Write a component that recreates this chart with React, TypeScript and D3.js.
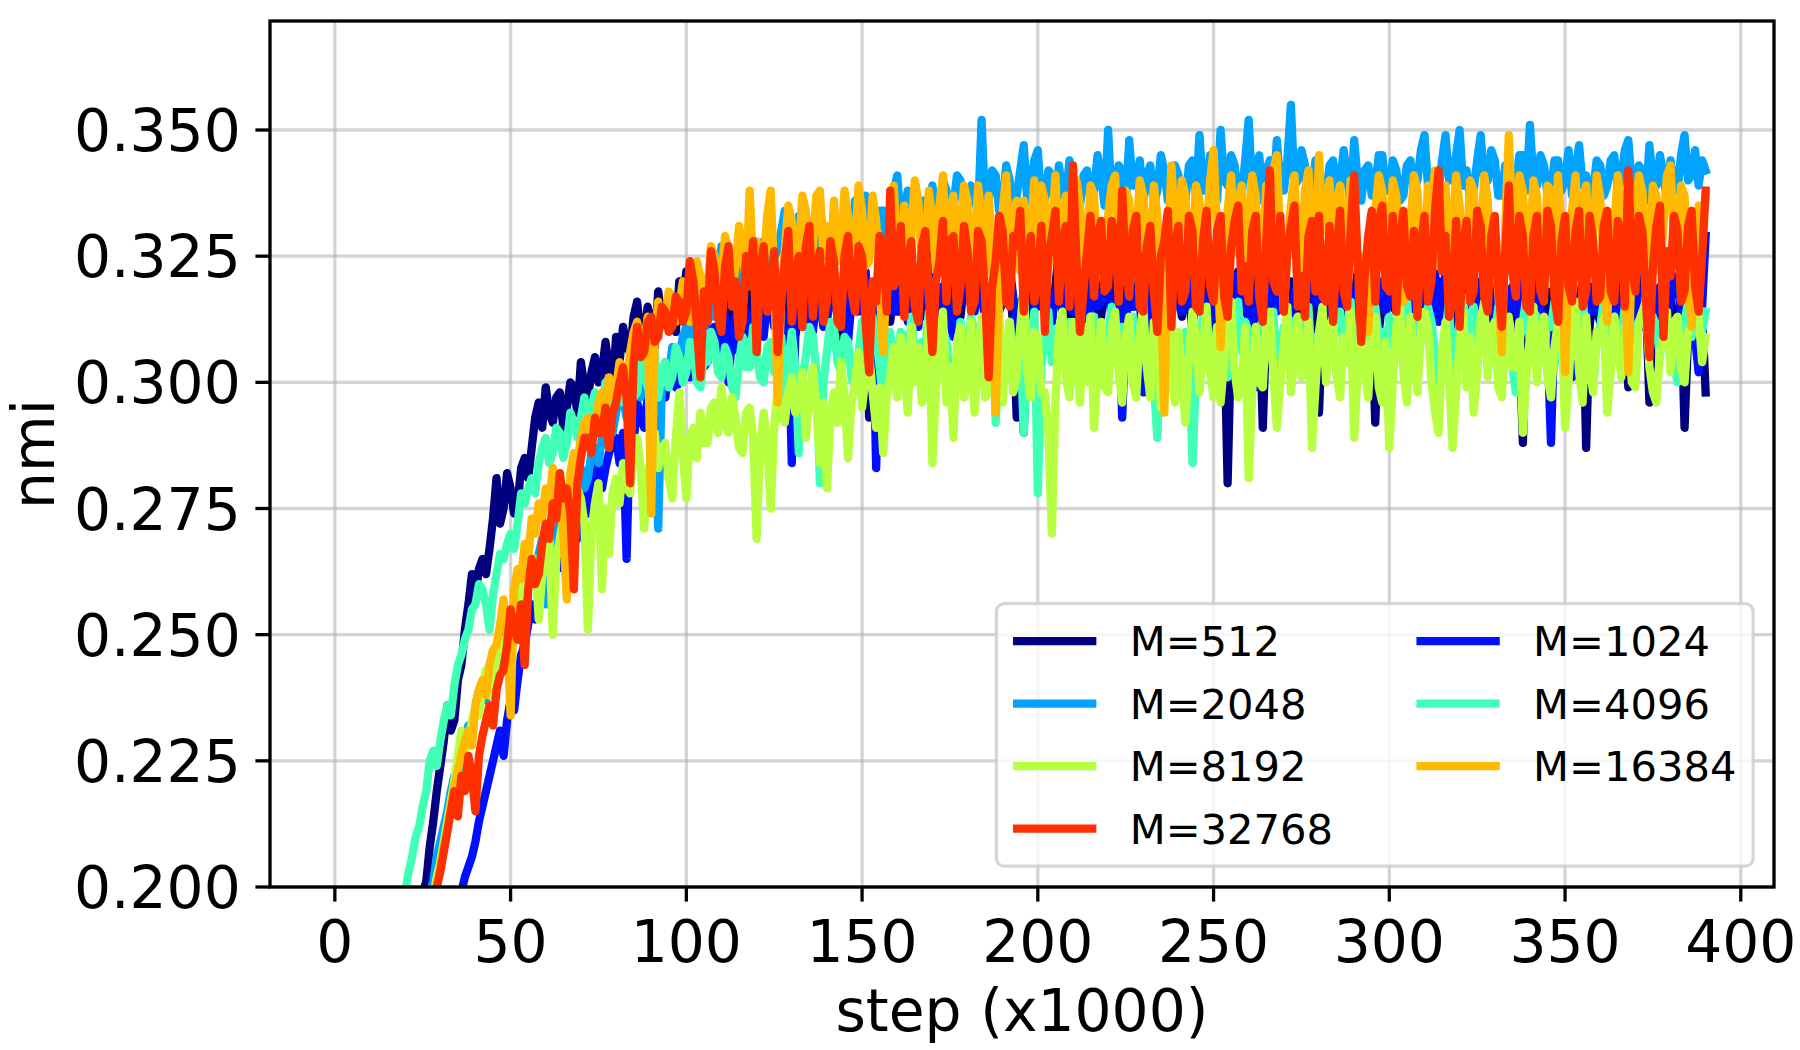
import * as d3 from "d3";

// step axis (x1000), one sample per 1k steps
const steps = d3.range(20, 391);

const m512 = [
  0.183, 0.187, 0.189, 0.193, 0.195, 0.199, 0.201, 0.208, 0.213, 0.219, 0.224, 0.229, 0.236, 0.231, 0.233, 0.241, 0.244, 0.251, 0.256, 0.262,
  0.258, 0.263, 0.265, 0.262, 0.267, 0.273, 0.281, 0.272, 0.275, 0.282, 0.279, 0.274, 0.276, 0.283, 0.285, 0.281, 0.287, 0.293, 0.296, 0.291,
  0.299, 0.294, 0.292, 0.297, 0.298, 0.291, 0.295, 0.300, 0.299, 0.294, 0.304, 0.299, 0.297, 0.302, 0.305, 0.300, 0.302, 0.308, 0.303, 0.298,
  0.309, 0.304, 0.311, 0.307, 0.306, 0.313, 0.316, 0.309, 0.309, 0.315, 0.312, 0.307, 0.318, 0.313, 0.312, 0.317, 0.315, 0.310, 0.320, 0.316,
  0.322, 0.317, 0.315, 0.321, 0.319, 0.311, 0.312, 0.318, 0.320, 0.314, 0.316, 0.323, 0.310, 0.316, 0.318, 0.312, 0.322, 0.317, 0.314, 0.320,
  0.317, 0.311, 0.312, 0.319, 0.320, 0.314, 0.308, 0.316, 0.322, 0.313, 0.316, 0.321, 0.324, 0.317, 0.311, 0.318, 0.319, 0.314, 0.323, 0.316,
  0.315, 0.320, 0.321, 0.313, 0.309, 0.317, 0.326, 0.319, 0.318, 0.324, 0.336, 0.318, 0.293, 0.311, 0.316, 0.322, 0.322, 0.315, 0.312, 0.319,
  0.319, 0.314, 0.324, 0.317, 0.311, 0.319, 0.320, 0.313, 0.316, 0.322, 0.325, 0.316, 0.308, 0.317, 0.321, 0.315, 0.318, 0.323, 0.313, 0.320,
  0.322, 0.316, 0.315, 0.321, 0.319, 0.312, 0.311, 0.318, 0.324, 0.317, 0.317, 0.322, 0.320, 0.311, 0.293, 0.314, 0.318, 0.323, 0.325, 0.316,
  0.316, 0.322, 0.321, 0.314, 0.312, 0.319, 0.326, 0.318, 0.318, 0.313, 0.309, 0.317, 0.322, 0.316, 0.315, 0.321, 0.320, 0.314, 0.313, 0.319,
  0.324, 0.318, 0.317, 0.312, 0.311, 0.319, 0.320, 0.315, 0.316, 0.322, 0.325, 0.317, 0.308, 0.316, 0.319, 0.313, 0.322, 0.318, 0.314, 0.321,
  0.318, 0.313, 0.323, 0.317, 0.310, 0.318, 0.321, 0.314, 0.316, 0.322, 0.309, 0.316, 0.324, 0.312, 0.280, 0.309, 0.317, 0.322, 0.320, 0.314,
  0.313, 0.319, 0.322, 0.315, 0.291, 0.311, 0.318, 0.323, 0.324, 0.316, 0.315, 0.320, 0.320, 0.313, 0.311, 0.318, 0.323, 0.317, 0.317, 0.311,
  0.294, 0.313, 0.319, 0.314, 0.323, 0.317, 0.312, 0.320, 0.320, 0.315, 0.316, 0.322, 0.309, 0.317, 0.322, 0.314, 0.292, 0.310, 0.316, 0.321,
  0.321, 0.315, 0.314, 0.319, 0.318, 0.312, 0.310, 0.317, 0.324, 0.318, 0.317, 0.311, 0.312, 0.319, 0.320, 0.314, 0.315, 0.321, 0.308, 0.316,
  0.318, 0.312, 0.322, 0.316, 0.313, 0.320, 0.319, 0.313, 0.307, 0.315, 0.316, 0.321, 0.321, 0.314, 0.311, 0.318, 0.317, 0.309, 0.288, 0.312,
  0.316, 0.321, 0.320, 0.313, 0.309, 0.316, 0.318, 0.312, 0.313, 0.319, 0.322, 0.315, 0.306, 0.314, 0.315, 0.320, 0.287, 0.311, 0.319, 0.314,
  0.312, 0.317, 0.318, 0.311, 0.309, 0.316, 0.320, 0.314, 0.299, 0.312, 0.316, 0.321, 0.311, 0.317, 0.296, 0.313, 0.318, 0.312, 0.313, 0.319,
  0.317, 0.312, 0.310, 0.316, 0.291, 0.309, 0.315, 0.311, 0.309, 0.314, 0.298,
];

const m1024 = [
  0.150, 0.154, 0.158, 0.162, 0.165, 0.169, 0.172, 0.176, 0.180, 0.183, 0.186, 0.189, 0.191, 0.193, 0.195, 0.197, 0.199, 0.202, 0.204, 0.206,
  0.209, 0.213, 0.216, 0.219, 0.222, 0.225, 0.228, 0.231, 0.226, 0.233, 0.237, 0.235, 0.241, 0.246, 0.248, 0.252, 0.256, 0.253, 0.258, 0.261,
  0.262, 0.266, 0.259, 0.264, 0.268, 0.263, 0.266, 0.271, 0.272, 0.269, 0.276, 0.279, 0.274, 0.278, 0.281, 0.284, 0.279, 0.283, 0.286, 0.288,
  0.289, 0.284, 0.290, 0.265, 0.292, 0.288, 0.296, 0.293, 0.291, 0.297, 0.299, 0.295, 0.302, 0.298, 0.297, 0.303, 0.304, 0.299, 0.300, 0.305,
  0.306, 0.301, 0.302, 0.308, 0.309, 0.303, 0.304, 0.310, 0.311, 0.305, 0.307, 0.313, 0.300, 0.309, 0.313, 0.306, 0.308, 0.314, 0.312, 0.307,
  0.315, 0.310, 0.309, 0.316, 0.317, 0.311, 0.312, 0.318, 0.306, 0.313, 0.284, 0.309, 0.314, 0.319, 0.318, 0.312, 0.310, 0.317, 0.316, 0.311,
  0.312, 0.318, 0.319, 0.313, 0.315, 0.320, 0.308, 0.316, 0.321, 0.314, 0.316, 0.322, 0.313, 0.318, 0.283, 0.310, 0.317, 0.321, 0.320, 0.314,
  0.314, 0.320, 0.318, 0.312, 0.322, 0.316, 0.311, 0.318, 0.317, 0.321, 0.320, 0.314, 0.313, 0.319, 0.319, 0.312, 0.309, 0.316, 0.316, 0.322,
  0.321, 0.315, 0.314, 0.319, 0.318, 0.313, 0.311, 0.317, 0.320, 0.314, 0.316, 0.322, 0.323, 0.317, 0.312, 0.308, 0.290, 0.313, 0.319, 0.315,
  0.315, 0.321, 0.320, 0.313, 0.312, 0.318, 0.318, 0.314, 0.322, 0.316, 0.314, 0.320, 0.319, 0.313, 0.310, 0.317, 0.321, 0.315, 0.316, 0.322,
  0.318, 0.313, 0.312, 0.317, 0.293, 0.311, 0.320, 0.315, 0.315, 0.319, 0.298, 0.312, 0.321, 0.316, 0.314, 0.320, 0.319, 0.313, 0.313, 0.318,
  0.320, 0.314, 0.316, 0.321, 0.311, 0.317, 0.322, 0.315, 0.317, 0.312, 0.314, 0.320, 0.319, 0.313, 0.312, 0.318, 0.321, 0.315, 0.316, 0.321,
  0.313, 0.318, 0.299, 0.312, 0.318, 0.314, 0.321, 0.316, 0.314, 0.320, 0.319, 0.313, 0.311, 0.317, 0.320, 0.315, 0.316, 0.321, 0.322, 0.316,
  0.317, 0.312, 0.313, 0.319, 0.320, 0.314, 0.315, 0.321, 0.321, 0.316, 0.312, 0.318, 0.318, 0.313, 0.323, 0.317, 0.314, 0.320, 0.319, 0.314,
  0.316, 0.320, 0.321, 0.315, 0.311, 0.317, 0.318, 0.313, 0.314, 0.319, 0.320, 0.314, 0.317, 0.322, 0.312, 0.316, 0.322, 0.317, 0.315, 0.320,
  0.319, 0.314, 0.313, 0.318, 0.320, 0.315, 0.316, 0.321, 0.311, 0.316, 0.318, 0.313, 0.322, 0.317, 0.314, 0.319, 0.317, 0.312, 0.320, 0.315,
  0.315, 0.320, 0.319, 0.314, 0.313, 0.308, 0.288, 0.312, 0.317, 0.321, 0.321, 0.315, 0.301, 0.313, 0.316, 0.320, 0.320, 0.314, 0.314, 0.319,
  0.318, 0.313, 0.312, 0.317, 0.320, 0.314, 0.315, 0.320, 0.319, 0.313, 0.313, 0.318, 0.317, 0.312, 0.321, 0.316, 0.314, 0.319, 0.318, 0.313,
  0.316, 0.321, 0.320, 0.314, 0.313, 0.318, 0.318, 0.309, 0.302, 0.315, 0.329,
];

const m2048 = [
  0.178, 0.181, 0.184, 0.187, 0.190, 0.194, 0.196, 0.199, 0.201, 0.206, 0.209, 0.212, 0.215, 0.219, 0.222, 0.220, 0.226, 0.230, 0.232, 0.229,
  0.236, 0.239, 0.240, 0.237, 0.244, 0.241, 0.247, 0.250, 0.243, 0.249, 0.252, 0.255, 0.256, 0.253, 0.259, 0.262, 0.263, 0.260, 0.266, 0.269,
  0.256, 0.265, 0.270, 0.268, 0.274, 0.271, 0.272, 0.277, 0.278, 0.276, 0.283, 0.279, 0.281, 0.286, 0.287, 0.284, 0.289, 0.293, 0.292, 0.290,
  0.294, 0.298, 0.297, 0.293, 0.295, 0.301, 0.300, 0.297, 0.302, 0.305, 0.298, 0.290, 0.271, 0.299, 0.304, 0.301, 0.307, 0.303, 0.305, 0.309,
  0.311, 0.307, 0.309, 0.315, 0.314, 0.311, 0.317, 0.314, 0.313, 0.319, 0.327, 0.318, 0.320, 0.316, 0.318, 0.322, 0.323, 0.319, 0.326, 0.321,
  0.324, 0.320, 0.328, 0.323, 0.331, 0.325, 0.326, 0.330, 0.334, 0.327, 0.329, 0.324, 0.333, 0.328, 0.327, 0.332, 0.331, 0.326, 0.335, 0.329,
  0.330, 0.326, 0.334, 0.329, 0.328, 0.333, 0.333, 0.327, 0.336, 0.330, 0.331, 0.337, 0.335, 0.329, 0.329, 0.334, 0.334, 0.328, 0.332, 0.338,
  0.341, 0.332, 0.333, 0.338, 0.337, 0.331, 0.331, 0.336, 0.336, 0.330, 0.339, 0.333, 0.333, 0.340, 0.338, 0.332, 0.335, 0.341, 0.340, 0.334,
  0.334, 0.339, 0.338, 0.333, 0.352, 0.335, 0.336, 0.342, 0.341, 0.334, 0.335, 0.343, 0.340, 0.333, 0.337, 0.342, 0.347, 0.336, 0.339, 0.344,
  0.346, 0.335, 0.336, 0.342, 0.341, 0.334, 0.343, 0.337, 0.337, 0.344, 0.340, 0.334, 0.335, 0.341, 0.342, 0.336, 0.338, 0.345, 0.341, 0.335,
  0.350, 0.336, 0.337, 0.343, 0.342, 0.335, 0.348, 0.339, 0.339, 0.344, 0.336, 0.341, 0.343, 0.335, 0.338, 0.345, 0.342, 0.336, 0.337, 0.343,
  0.341, 0.335, 0.336, 0.343, 0.344, 0.337, 0.349, 0.338, 0.338, 0.345, 0.342, 0.336, 0.350, 0.340, 0.339, 0.345, 0.343, 0.336, 0.337, 0.344,
  0.352, 0.338, 0.340, 0.345, 0.336, 0.342, 0.344, 0.337, 0.348, 0.339, 0.338, 0.344, 0.355, 0.339, 0.340, 0.346, 0.343, 0.336, 0.338, 0.344,
  0.342, 0.336, 0.337, 0.343, 0.344, 0.338, 0.339, 0.346, 0.341, 0.335, 0.348, 0.340, 0.336, 0.342, 0.343, 0.337, 0.339, 0.345, 0.345, 0.338,
  0.338, 0.344, 0.342, 0.336, 0.337, 0.343, 0.344, 0.338, 0.340, 0.346, 0.349, 0.339, 0.341, 0.336, 0.338, 0.344, 0.349, 0.340, 0.340, 0.345,
  0.350, 0.339, 0.342, 0.336, 0.338, 0.344, 0.349, 0.340, 0.340, 0.346, 0.344, 0.337, 0.337, 0.343, 0.342, 0.336, 0.339, 0.345, 0.345, 0.338,
  0.351, 0.340, 0.339, 0.345, 0.343, 0.337, 0.338, 0.344, 0.344, 0.338, 0.340, 0.346, 0.337, 0.342, 0.347, 0.339, 0.341, 0.336, 0.338, 0.344,
  0.343, 0.337, 0.339, 0.344, 0.345, 0.338, 0.340, 0.346, 0.348, 0.339, 0.338, 0.343, 0.342, 0.336, 0.347, 0.340, 0.339, 0.345, 0.341, 0.336,
  0.344, 0.339, 0.338, 0.345, 0.349, 0.340, 0.341, 0.346, 0.339, 0.344, 0.342,
];

const m4096 = [
  0.199, 0.203, 0.206, 0.210, 0.212, 0.216, 0.219, 0.225, 0.227, 0.224, 0.229, 0.233, 0.236, 0.234, 0.240, 0.244, 0.246, 0.249, 0.251, 0.255,
  0.256, 0.260, 0.259, 0.256, 0.251, 0.258, 0.262, 0.266, 0.265, 0.268, 0.270, 0.267, 0.272, 0.278, 0.276, 0.279, 0.281, 0.278, 0.284, 0.287,
  0.289, 0.284, 0.286, 0.291, 0.290, 0.285, 0.288, 0.294, 0.292, 0.289, 0.293, 0.297, 0.291, 0.295, 0.298, 0.293, 0.295, 0.300, 0.297, 0.294,
  0.299, 0.303, 0.296, 0.301, 0.301, 0.297, 0.298, 0.304, 0.303, 0.299, 0.300, 0.306, 0.297, 0.302, 0.304, 0.299, 0.301, 0.307, 0.305, 0.300,
  0.302, 0.308, 0.306, 0.300, 0.299, 0.305, 0.304, 0.310, 0.308, 0.302, 0.301, 0.307, 0.305, 0.299, 0.297, 0.304, 0.309, 0.303, 0.303, 0.311,
  0.306, 0.301, 0.300, 0.307, 0.308, 0.302, 0.303, 0.309, 0.297, 0.304, 0.310, 0.303, 0.286, 0.301, 0.305, 0.311, 0.309, 0.302, 0.280, 0.300,
  0.306, 0.312, 0.311, 0.304, 0.302, 0.309, 0.308, 0.301, 0.299, 0.306, 0.312, 0.305, 0.305, 0.313, 0.309, 0.303, 0.296, 0.307, 0.310, 0.304,
  0.304, 0.310, 0.309, 0.302, 0.313, 0.306, 0.300, 0.308, 0.307, 0.314, 0.311, 0.304, 0.303, 0.310, 0.308, 0.301, 0.298, 0.306, 0.312, 0.305,
  0.306, 0.313, 0.310, 0.303, 0.302, 0.309, 0.309, 0.315, 0.292, 0.305, 0.307, 0.301, 0.312, 0.306, 0.303, 0.310, 0.290, 0.304, 0.308, 0.314,
  0.278, 0.303, 0.309, 0.314, 0.304, 0.310, 0.311, 0.305, 0.306, 0.312, 0.300, 0.308, 0.310, 0.304, 0.307, 0.313, 0.313, 0.306, 0.302, 0.309,
  0.309, 0.315, 0.304, 0.310, 0.311, 0.305, 0.306, 0.313, 0.300, 0.307, 0.312, 0.306, 0.305, 0.300, 0.289, 0.306, 0.308, 0.314, 0.311, 0.304,
  0.303, 0.309, 0.310, 0.304, 0.284, 0.302, 0.307, 0.313, 0.312, 0.306, 0.305, 0.311, 0.309, 0.303, 0.301, 0.308, 0.311, 0.316, 0.306, 0.312,
  0.310, 0.305, 0.304, 0.311, 0.312, 0.306, 0.307, 0.314, 0.301, 0.308, 0.311, 0.305, 0.306, 0.312, 0.313, 0.307, 0.308, 0.315, 0.303, 0.309,
  0.304, 0.310, 0.311, 0.306, 0.307, 0.313, 0.314, 0.308, 0.309, 0.316, 0.303, 0.310, 0.312, 0.306, 0.308, 0.314, 0.315, 0.309, 0.310, 0.305,
  0.313, 0.308, 0.307, 0.312, 0.311, 0.317, 0.305, 0.310, 0.314, 0.308, 0.309, 0.315, 0.312, 0.306, 0.296, 0.305, 0.310, 0.316, 0.298, 0.307,
  0.312, 0.317, 0.308, 0.313, 0.315, 0.309, 0.306, 0.312, 0.311, 0.305, 0.309, 0.315, 0.313, 0.308, 0.307, 0.303, 0.298, 0.308, 0.312, 0.317,
  0.308, 0.314, 0.313, 0.307, 0.306, 0.312, 0.311, 0.316, 0.309, 0.304, 0.314, 0.309, 0.305, 0.311, 0.312, 0.317, 0.308, 0.303, 0.299, 0.309,
  0.311, 0.316, 0.307, 0.312, 0.313, 0.308, 0.309, 0.315, 0.315, 0.310, 0.306, 0.312, 0.312, 0.317, 0.308, 0.313, 0.311, 0.305, 0.314, 0.309,
  0.307, 0.304, 0.300, 0.308, 0.312, 0.316, 0.309, 0.313, 0.315, 0.310, 0.314,
];

const m8192 = [
  0.172, 0.176, 0.180, 0.184, 0.187, 0.190, 0.193, 0.196, 0.198, 0.202, 0.205, 0.209, 0.213, 0.217, 0.221, 0.226, 0.231, 0.227, 0.229, 0.233,
  0.236, 0.234, 0.240, 0.243, 0.238, 0.242, 0.245, 0.248, 0.249, 0.246, 0.252, 0.256, 0.255, 0.260, 0.258, 0.263, 0.260, 0.265, 0.253, 0.262,
  0.266, 0.270, 0.250, 0.265, 0.269, 0.273, 0.271, 0.268, 0.274, 0.279, 0.277, 0.272, 0.251, 0.270, 0.276, 0.280, 0.259, 0.275, 0.266, 0.278,
  0.281, 0.276, 0.284, 0.279, 0.278, 0.286, 0.289, 0.283, 0.271, 0.282, 0.285, 0.290, 0.283, 0.287, 0.288, 0.281, 0.277, 0.289, 0.298, 0.286,
  0.277, 0.289, 0.291, 0.285, 0.294, 0.288, 0.288, 0.295, 0.296, 0.290, 0.299, 0.292, 0.290, 0.297, 0.293, 0.287, 0.286, 0.294, 0.295, 0.289,
  0.269, 0.287, 0.294, 0.288, 0.275, 0.291, 0.299, 0.293, 0.292, 0.298, 0.301, 0.294, 0.296, 0.302, 0.289, 0.297, 0.303, 0.295, 0.284, 0.296,
  0.279, 0.293, 0.298, 0.292, 0.304, 0.297, 0.285, 0.296, 0.300, 0.306, 0.295, 0.301, 0.306, 0.298, 0.291, 0.299, 0.286, 0.297, 0.301, 0.307,
  0.297, 0.309, 0.303, 0.294, 0.311, 0.300, 0.307, 0.296, 0.299, 0.312, 0.284, 0.298, 0.309, 0.314, 0.296, 0.303, 0.289, 0.308, 0.311, 0.297,
  0.300, 0.312, 0.294, 0.305, 0.313, 0.297, 0.298, 0.310, 0.303, 0.314, 0.296, 0.307, 0.312, 0.298, 0.301, 0.311, 0.319, 0.302, 0.297, 0.310,
  0.309, 0.298, 0.298, 0.290, 0.270, 0.296, 0.310, 0.314, 0.301, 0.297, 0.312, 0.305, 0.296, 0.311, 0.300, 0.313, 0.291, 0.302, 0.312, 0.299,
  0.298, 0.311, 0.314, 0.302, 0.296, 0.309, 0.313, 0.300, 0.297, 0.310, 0.315, 0.303, 0.297, 0.312, 0.308, 0.295, 0.305, 0.314, 0.301, 0.296,
  0.310, 0.301, 0.292, 0.305, 0.314, 0.309, 0.298, 0.306, 0.315, 0.302, 0.297, 0.311, 0.296, 0.304, 0.313, 0.316, 0.302, 0.297, 0.299, 0.311,
  0.281, 0.298, 0.311, 0.300, 0.299, 0.312, 0.314, 0.302, 0.291, 0.300, 0.308, 0.315, 0.298, 0.305, 0.313, 0.301, 0.302, 0.312, 0.287, 0.299,
  0.310, 0.315, 0.300, 0.311, 0.313, 0.301, 0.297, 0.309, 0.304, 0.314, 0.289, 0.302, 0.312, 0.303, 0.297, 0.310, 0.313, 0.299, 0.296, 0.308,
  0.287, 0.300, 0.311, 0.315, 0.302, 0.296, 0.313, 0.304, 0.298, 0.310, 0.314, 0.311, 0.300, 0.294, 0.290, 0.306, 0.312, 0.301, 0.287, 0.298,
  0.308, 0.314, 0.299, 0.309, 0.294, 0.302, 0.312, 0.316, 0.301, 0.310, 0.312, 0.299, 0.297, 0.308, 0.313, 0.303, 0.303, 0.312, 0.290, 0.301,
  0.309, 0.315, 0.300, 0.310, 0.313, 0.301, 0.297, 0.307, 0.312, 0.314, 0.291, 0.300, 0.311, 0.316, 0.302, 0.296, 0.313, 0.303, 0.298, 0.310,
  0.308, 0.313, 0.294, 0.302, 0.313, 0.307, 0.301, 0.311, 0.310, 0.300, 0.299, 0.312, 0.314, 0.316, 0.303, 0.298, 0.296, 0.306, 0.309, 0.314,
  0.302, 0.312, 0.313, 0.303, 0.300, 0.310, 0.311, 0.316, 0.313, 0.304, 0.309,
];

const m16384 = [
  0.170, 0.174, 0.177, 0.181, 0.184, 0.187, 0.190, 0.193, 0.196, 0.200, 0.204, 0.208, 0.211, 0.216, 0.220, 0.223, 0.226, 0.229, 0.231, 0.228,
  0.236, 0.239, 0.241, 0.238, 0.244, 0.247, 0.248, 0.252, 0.257, 0.251, 0.234, 0.259, 0.263, 0.261, 0.268, 0.265, 0.273, 0.270, 0.276, 0.273,
  0.279, 0.276, 0.283, 0.279, 0.281, 0.270, 0.257, 0.282, 0.286, 0.284, 0.289, 0.292, 0.293, 0.288, 0.291, 0.296, 0.298, 0.294, 0.301, 0.297,
  0.299, 0.304, 0.303, 0.300, 0.306, 0.310, 0.312, 0.307, 0.308, 0.313, 0.274, 0.309, 0.316, 0.311, 0.313, 0.318, 0.317, 0.312, 0.315, 0.320,
  0.319, 0.312, 0.318, 0.324, 0.321, 0.314, 0.318, 0.327, 0.325, 0.317, 0.320, 0.329, 0.326, 0.318, 0.323, 0.331, 0.327, 0.319, 0.338, 0.323,
  0.328, 0.320, 0.323, 0.333, 0.338, 0.321, 0.296, 0.317, 0.326, 0.335, 0.332, 0.322, 0.325, 0.337, 0.334, 0.323, 0.327, 0.337, 0.338, 0.325,
  0.331, 0.322, 0.336, 0.325, 0.324, 0.338, 0.333, 0.322, 0.327, 0.339, 0.334, 0.323, 0.324, 0.337, 0.332, 0.319, 0.306, 0.321, 0.331, 0.339,
  0.326, 0.321, 0.335, 0.324, 0.329, 0.340, 0.336, 0.323, 0.326, 0.338, 0.332, 0.322, 0.335, 0.341, 0.325, 0.334, 0.337, 0.322, 0.330, 0.339,
  0.336, 0.323, 0.326, 0.339, 0.333, 0.322, 0.337, 0.327, 0.294, 0.318, 0.334, 0.341, 0.325, 0.334, 0.336, 0.322, 0.336, 0.327, 0.329, 0.340,
  0.328, 0.339, 0.336, 0.323, 0.330, 0.341, 0.325, 0.333, 0.337, 0.322, 0.330, 0.340, 0.335, 0.322, 0.327, 0.339, 0.337, 0.324, 0.331, 0.322,
  0.333, 0.339, 0.341, 0.325, 0.327, 0.338, 0.336, 0.323, 0.328, 0.340, 0.337, 0.324, 0.326, 0.339, 0.333, 0.319, 0.294, 0.325, 0.343, 0.331,
  0.330, 0.340, 0.337, 0.323, 0.326, 0.339, 0.336, 0.322, 0.329, 0.340, 0.346, 0.330, 0.307, 0.324, 0.334, 0.341, 0.326, 0.336, 0.339, 0.324,
  0.331, 0.341, 0.337, 0.323, 0.325, 0.339, 0.336, 0.342, 0.345, 0.327, 0.314, 0.326, 0.335, 0.341, 0.326, 0.321, 0.338, 0.342, 0.328, 0.324,
  0.345, 0.330, 0.334, 0.340, 0.324, 0.336, 0.339, 0.323, 0.329, 0.340, 0.336, 0.322, 0.325, 0.319, 0.310, 0.326, 0.334, 0.341, 0.338, 0.325,
  0.328, 0.340, 0.337, 0.324, 0.316, 0.328, 0.330, 0.341, 0.338, 0.324, 0.325, 0.339, 0.335, 0.342, 0.323, 0.336, 0.339, 0.322, 0.330, 0.341,
  0.335, 0.322, 0.325, 0.340, 0.338, 0.323, 0.327, 0.341, 0.336, 0.322, 0.324, 0.318, 0.306, 0.331, 0.349, 0.332, 0.327, 0.341, 0.338, 0.324,
  0.326, 0.340, 0.337, 0.322, 0.325, 0.339, 0.338, 0.323, 0.341, 0.330, 0.302, 0.322, 0.334, 0.341, 0.324, 0.336, 0.339, 0.323, 0.330, 0.341,
  0.337, 0.323, 0.312, 0.328, 0.331, 0.341, 0.336, 0.322, 0.302, 0.325, 0.333, 0.341, 0.338, 0.324, 0.326, 0.339, 0.337, 0.322, 0.331, 0.341,
  0.343, 0.328, 0.325, 0.339, 0.337, 0.322, 0.311, 0.324, 0.335, 0.329, 0.337,
];

const m32768 = [
  0.163, 0.167, 0.170, 0.174, 0.177, 0.181, 0.185, 0.190, 0.196, 0.200, 0.203, 0.207, 0.211, 0.215, 0.219, 0.214, 0.222, 0.219, 0.226, 0.222,
  0.215, 0.226, 0.230, 0.233, 0.236, 0.232, 0.239, 0.242, 0.243, 0.248, 0.255, 0.251, 0.249, 0.256, 0.244, 0.259, 0.265, 0.260, 0.262, 0.268,
  0.272, 0.269, 0.276, 0.273, 0.282, 0.277, 0.279, 0.274, 0.259, 0.280, 0.285, 0.289, 0.289, 0.286, 0.293, 0.290, 0.290, 0.295, 0.287, 0.294,
  0.296, 0.300, 0.303, 0.297, 0.280, 0.304, 0.311, 0.305, 0.306, 0.312, 0.313, 0.308, 0.309, 0.315, 0.314, 0.310, 0.311, 0.317, 0.316, 0.312,
  0.314, 0.324, 0.320, 0.311, 0.301, 0.318, 0.312, 0.326, 0.322, 0.313, 0.310, 0.323, 0.327, 0.315, 0.320, 0.309, 0.312, 0.325, 0.319, 0.328,
  0.306, 0.322, 0.327, 0.314, 0.318, 0.326, 0.306, 0.316, 0.324, 0.330, 0.312, 0.321, 0.325, 0.311, 0.327, 0.331, 0.313, 0.323, 0.326, 0.312,
  0.316, 0.328, 0.324, 0.312, 0.311, 0.325, 0.329, 0.318, 0.314, 0.327, 0.325, 0.312, 0.302, 0.320, 0.316, 0.329, 0.327, 0.314, 0.338, 0.319,
  0.321, 0.331, 0.313, 0.324, 0.328, 0.315, 0.312, 0.327, 0.330, 0.317, 0.306, 0.320, 0.324, 0.332, 0.316, 0.328, 0.329, 0.314, 0.319, 0.331,
  0.326, 0.314, 0.316, 0.330, 0.328, 0.317, 0.301, 0.319, 0.324, 0.333, 0.330, 0.316, 0.315, 0.329, 0.327, 0.334, 0.314, 0.323, 0.329, 0.316,
  0.321, 0.331, 0.310, 0.325, 0.329, 0.334, 0.316, 0.328, 0.331, 0.315, 0.343, 0.324, 0.310, 0.318, 0.326, 0.333, 0.317, 0.329, 0.332, 0.318,
  0.319, 0.332, 0.329, 0.316, 0.338, 0.322, 0.317, 0.330, 0.333, 0.315, 0.314, 0.327, 0.331, 0.318, 0.310, 0.325, 0.328, 0.334, 0.311, 0.327,
  0.331, 0.316, 0.318, 0.333, 0.330, 0.315, 0.314, 0.328, 0.334, 0.319, 0.316, 0.330, 0.333, 0.317, 0.313, 0.327, 0.332, 0.335, 0.318, 0.323,
  0.316, 0.330, 0.333, 0.317, 0.312, 0.328, 0.342, 0.320, 0.318, 0.333, 0.314, 0.326, 0.331, 0.335, 0.315, 0.321, 0.313, 0.329, 0.332, 0.318,
  0.333, 0.317, 0.316, 0.331, 0.312, 0.326, 0.334, 0.318, 0.315, 0.330, 0.341, 0.324, 0.308, 0.321, 0.329, 0.334, 0.316, 0.332, 0.335, 0.319,
  0.318, 0.333, 0.314, 0.328, 0.334, 0.319, 0.317, 0.330, 0.313, 0.327, 0.333, 0.316, 0.320, 0.334, 0.342, 0.322, 0.329, 0.313, 0.316, 0.332,
  0.311, 0.327, 0.332, 0.316, 0.318, 0.334, 0.331, 0.317, 0.314, 0.329, 0.333, 0.319, 0.311, 0.326, 0.339, 0.322, 0.317, 0.333, 0.329, 0.315,
  0.314, 0.329, 0.333, 0.318, 0.316, 0.334, 0.331, 0.317, 0.312, 0.328, 0.333, 0.319, 0.316, 0.330, 0.334, 0.315, 0.318, 0.333, 0.328, 0.316,
  0.317, 0.331, 0.334, 0.318, 0.316, 0.332, 0.329, 0.315, 0.342, 0.324, 0.318, 0.333, 0.330, 0.316, 0.305, 0.323, 0.331, 0.335, 0.309, 0.326,
  0.321, 0.333, 0.330, 0.316, 0.318, 0.331, 0.334, 0.319, 0.314, 0.325, 0.338,
];

const seriesLabels = ["M=512", "M=1024", "M=2048", "M=4096", "M=8192", "M=16384", "M=32768"];
const seriesValues = [m512, m1024, m2048, m4096, m8192, m16384, m32768];
// jet colormap sampled at i/7
const seriesColors = ["#000080", "#0010ff", "#00a4ff", "#40ffb7", "#b7ff40", "#ffb900", "#ff3000"];

const xTicks = [0, 50, 100, 150, 200, 250, 300, 350, 400];
const yTicks = [0.2, 0.225, 0.25, 0.275, 0.3, 0.325, 0.35];

const FONT = "'DejaVu Sans', sans-serif";

export default function App() {
  const width = 1800;
  const height = 1050;
  const margin = { top: 21, right: 26, bottom: 163, left: 270 };
  const x = d3.scaleLinear().domain([-18.45, 409.45]).range([margin.left, width - margin.right]);
  const y = d3.scaleLinear().domain([0.2, 0.3716]).range([height - margin.bottom, margin.top]);
  const line = d3.line<number>().x((_, i) => x(steps[i])).y((v) => y(v));

  const x0 = margin.left;
  const x1 = width - margin.right;
  const y0 = margin.top;
  const y1 = height - margin.bottom;
  const tickLen = 14.6;
  const tickFont = 58.3;

  // legend, laid out like matplotlib (fontsize 41.67, 2 columns, lower right)
  const lf = 41.67;
  const colText = 4.881 * lf;
  const legW = lf * (0.4 * 2 + 2 * 2 + 0.8 * 2 + 2) + colText * 2;
  const legH = lf * (0.4 * 2 + 4 + 0.5 * 3);
  const legX = x1 - 0.5 * lf - legW;
  const legY = y1 - 0.5 * lf - legH;
  const colX = [legX + 0.4 * lf, legX + 0.4 * lf + 2 * lf + 0.8 * lf + colText + 2 * lf];

  return (
    <svg
      width={width}
      height={height}
      viewBox={`0 0 ${width} ${height}`}
      style={{ position: "absolute", left: 0, top: 0, display: "block" }}
      fontFamily={FONT}
    >
      <rect width={width} height={height} fill="white" />
      <defs>
        <clipPath id="plot-area">
          <rect x={x0} y={y0} width={x1 - x0} height={y1 - y0} />
        </clipPath>
      </defs>

      {/* grid */}
      <g stroke="#b0b0b0" strokeOpacity={0.55} strokeWidth={3.3}>
        {xTicks.map((t) => (
          <line key={`gx${t}`} x1={x(t)} x2={x(t)} y1={y0} y2={y1} />
        ))}
        {yTicks.map((t) => (
          <line key={`gy${t}`} x1={x0} x2={x1} y1={y(t)} y2={y(t)} />
        ))}
      </g>

      {/* series */}
      <g clipPath="url(#plot-area)" fill="none" strokeWidth={8.3} strokeLinejoin="round" strokeLinecap="square">
        {seriesValues.map((vals, i) => (
          <path key={seriesLabels[i]} d={line(vals) ?? ""} stroke={seriesColors[i]} />
        ))}
      </g>

      {/* spines */}
      <rect x={x0} y={y0} width={x1 - x0} height={y1 - y0} fill="none" stroke="black" strokeWidth={3.3} />

      {/* x ticks */}
      {xTicks.map((t) => (
        <g key={`xt${t}`}>
          <line x1={x(t)} x2={x(t)} y1={y1} y2={y1 + tickLen} stroke="black" strokeWidth={3.3} />
          <text x={x(t)} y={962} textAnchor="middle" fontSize={tickFont} fill="black">
            {t}
          </text>
        </g>
      ))}

      {/* y ticks */}
      {yTicks.map((t) => (
        <g key={`yt${t}`}>
          <line x1={x0 - tickLen} x2={x0} y1={y(t)} y2={y(t)} stroke="black" strokeWidth={3.3} />
          <text x={x0 - 2 * tickLen} y={y(t) + 21} textAnchor="end" fontSize={tickFont} fill="black">
            {d3.format(".3f")(t)}
          </text>
        </g>
      ))}

      <text x={(x0 + x1) / 2} y={1031} textAnchor="middle" fontSize={tickFont} fill="black">
        step (x1000)
      </text>
      <text
        transform={`translate(54, ${(y0 + y1) / 2}) rotate(-90)`}
        textAnchor="middle"
        fontSize={tickFont}
        fill="black"
      >
        nmi
      </text>

      {/* legend */}
      <rect
        x={legX}
        y={legY}
        width={legW}
        height={legH}
        rx={8}
        fill="white"
        fillOpacity={0.8}
        stroke="#cccccc"
        strokeOpacity={0.8}
        strokeWidth={3.3}
      />
      {seriesLabels.map((label, i) => {
        const col = i % 2;
        const row = Math.floor(i / 2);
        const cy = legY + 0.4 * lf + 0.5 * lf + row * 1.5 * lf;
        const hx = colX[col];
        return (
          <g key={`leg${label}`}>
            <line x1={hx} x2={hx + 2 * lf} y1={cy} y2={cy} stroke={seriesColors[i]} strokeWidth={8.3} />
            <text x={hx + 2.8 * lf} y={cy + 15} fontSize={lf} fill="black">
              {label}
            </text>
          </g>
        );
      })}
    </svg>
  );
}
